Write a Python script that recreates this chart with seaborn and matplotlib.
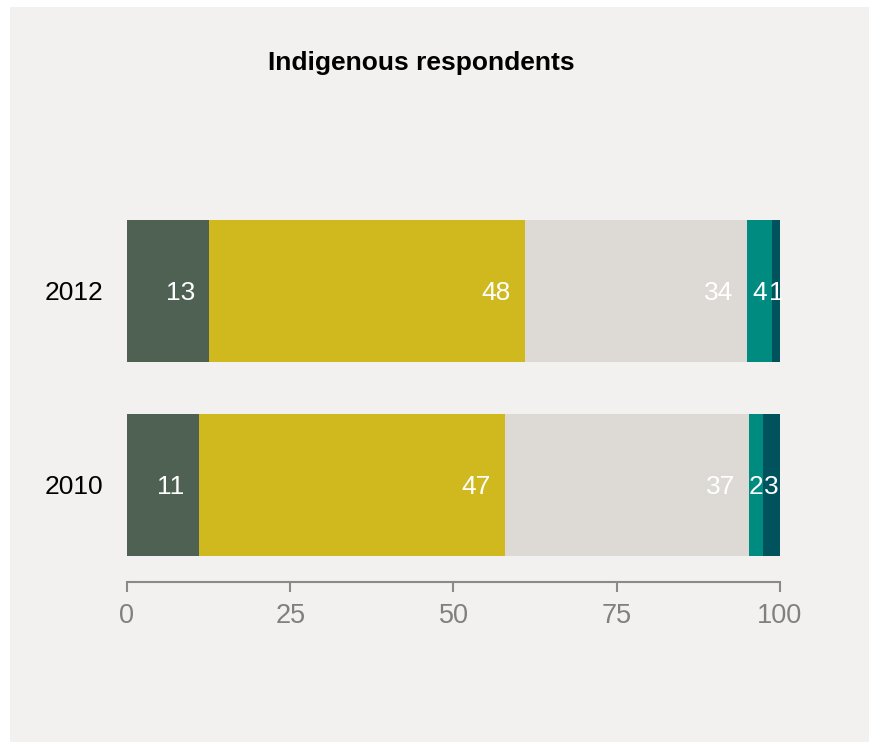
import numpy as np
import pandas as pd
import matplotlib.pyplot as plt
import seaborn as sns
from matplotlib.patches import Rectangle

# Данные
years = ['2012', '2010']
shares_2012 = [12.6, 48.4, 34.0, 3.8, 1.2]
shares_2010 = [11.0, 46.9, 37.4, 2.1, 2.6]
labels_2012 = ['13', '48', '34', '4', '1']
labels_2010 = ['11', '47', '37', '2', '3']
colors = ['#4e6152', '#cfb91f', '#ddd9d5', '#008b80', '#00525d']
ticks = [0, 25, 50, 75, 100]

sns.set_theme(style='white')
plt.rcParams['font.family'] = ['Liberation Sans', 'DejaVu Sans']

fig = plt.figure(figsize=(8.7, 7.42), dpi=100)
fig.patch.set_facecolor('white')
fig.patches.append(Rectangle((10 / 870, 0), 1, 1 - 7 / 742, transform=fig.transFigure,
                             facecolor='#f2f1ef', edgecolor='none', zorder=-10))

ax = fig.add_axes([127 / 870, 1 - 582 / 742, (780 - 127) / 870, (582 - 194) / 742])
ax.set_facecolor('none')

# Накопленные суммы для наложения столбцов
df = pd.DataFrame({'2012': shares_2012, '2010': shares_2010})
cum = df.cumsum()
for k in reversed(range(len(colors))):
    data = pd.DataFrame({'year': years, 'value': [cum.loc[k, y] for y in years]})
    sns.barplot(data=data, x='value', y='year', orient='h', color=colors[k],
                width=0.732, saturation=1, edgecolor='none', ax=ax)

# Подписи значений
all_labels = {'2012': labels_2012, '2010': labels_2010}
for i, y in enumerate(years):
    vals = df[y].values
    ends = cum[y].values
    for k in range(len(vals)):
        if vals[k] > 8:
            ax.text(ends[k] - 2.2, i + 0.01, all_labels[y][k], ha='right', va='center',
                    color='white', fontsize=19)
        else:
            ax.text(ends[k] - vals[k] / 2, i + 0.01, all_labels[y][k], ha='center', va='center',
                    color='white', fontsize=19)

ax.set_xlim(0, 100)
ax.set_ylim(1.5, -0.5)
ax.set_xticks(ticks)
ax.set_xlabel('')
ax.set_ylabel('')
for s in ['top', 'right', 'left']:
    ax.spines[s].set_visible(False)
ax.spines['bottom'].set_color('#8a8a8a')
ax.spines['bottom'].set_linewidth(1.5)
ax.spines['bottom'].set_bounds(0, 100)
ax.tick_params(axis='x', length=7, width=1.5, color='#8a8a8a', labelsize=19.5,
               labelcolor='#808080', pad=8, bottom=True)
ax.tick_params(axis='y', length=0, labelsize=19, labelcolor='black', pad=17)

fig.text(421 / 870, 1 - 63 / 742, 'Indigenous respondents', ha='center', va='center',
         fontsize=19, fontweight='bold', color='black')

fig.savefig('out.png', dpi=100)
